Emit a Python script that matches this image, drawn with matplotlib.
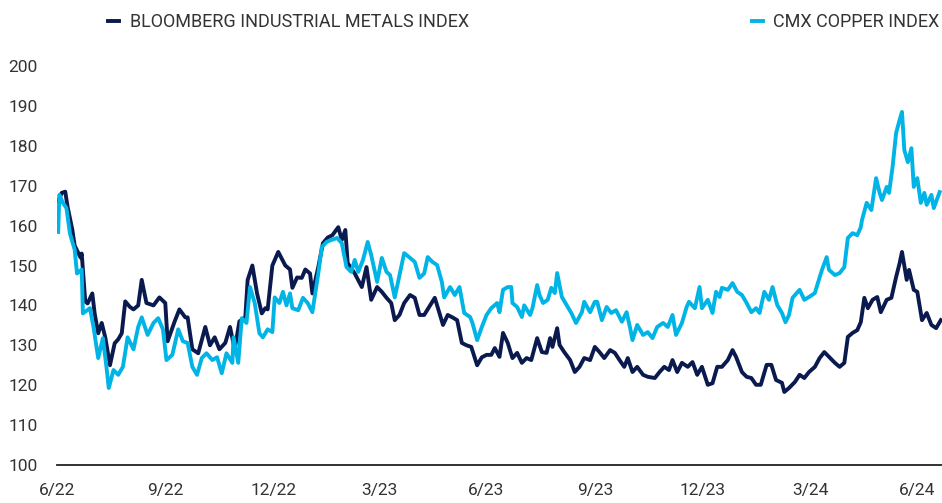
import matplotlib
matplotlib.use("Agg")
import matplotlib.pyplot as plt
import pandas as pd

# datas: dias desde 30/06/2022
inicio = pd.Timestamp("2022-06-30")

bcom_dia = [1, 4, 7, 9, 13, 15, 20, 21, 22, 24, 26, 30, 32, 35, 38, 41, 45, 49, 52, 55,
            58, 62, 65, 69, 72, 76, 82, 87, 92, 94, 100, 104, 109, 111, 115, 120, 126, 130, 134, 138,
            143, 147, 151, 155, 160, 162, 166, 170, 174, 177, 179, 183, 188, 194, 198, 200, 204, 208, 211, 215,
            217, 222, 226, 230, 234, 239, 242, 245, 247, 253, 259, 263, 267, 272, 276, 280, 284, 287, 291, 295,
            300, 304, 308, 312, 317, 321, 323, 328, 332, 336, 340, 344, 348, 352, 357, 361, 365, 369, 372, 376,
            379, 383, 387, 391, 395, 399, 403, 408, 412, 416, 419, 421, 425, 427, 431, 436, 440, 444, 448, 453,
            457, 461, 465, 470, 474, 478, 482, 485, 489, 493, 498, 502, 508, 512, 516, 520, 523, 527, 531, 536,
            540, 544, 548, 553, 557, 561, 565, 570, 574, 577, 582, 586, 590, 594, 598, 603, 607, 611, 616, 618,
            622, 627, 631, 635, 639, 644, 648, 652, 656, 661, 665, 669, 672, 676, 680, 683, 686, 689, 693, 697,
            700, 705, 709, 713, 716, 718, 722, 724, 728, 731, 735, 739, 743, 747, 751]
bcom_val = [166.0, 168.2, 168.5, 164.7, 159.0, 155.0, 152.0, 153.0, 149.0, 141.0, 140.5, 143.0, 138.0, 133.0, 135.6, 132.0, 125.0, 130.5, 131.5, 133.0,
            141.0, 139.6, 139.0, 140.0, 146.4, 140.6, 140.0, 142.0, 140.6, 131.0, 136.0, 139.0, 137.0, 137.0, 129.0, 128.0, 134.6, 130.0, 132.0, 129.0,
            130.6, 134.6, 129.0, 136.0, 137.0, 146.4, 150.0, 143.0, 138.0, 139.3, 139.0, 150.0, 153.4, 150.0, 149.0, 144.4, 147.0, 146.9, 149.0, 148.0,
            143.0, 149.6, 155.6, 157.0, 157.6, 159.6, 156.4, 158.9, 150.6, 148.0, 144.6, 149.6, 141.4, 144.6, 143.4, 141.9, 140.6, 136.3, 137.6, 140.6,
            142.6, 141.9, 137.6, 137.6, 140.0, 141.9, 140.0, 135.1, 137.6, 137.0, 136.3, 130.6, 130.0, 129.6, 125.0, 127.0, 127.6, 127.6, 129.3, 127.1,
            133.1, 130.6, 126.8, 128.1, 125.6, 126.8, 126.3, 131.8, 128.3, 128.1, 131.8, 129.6, 134.3, 130.1, 128.3, 126.3, 123.3, 124.6, 126.8, 126.3,
            129.6, 128.3, 126.8, 128.8, 128.1, 126.3, 124.6, 126.8, 123.3, 124.6, 122.6, 122.1, 121.8, 123.3, 124.6, 123.8, 126.3, 123.3, 125.6, 124.6,
            125.8, 122.6, 124.6, 120.1, 120.5, 124.6, 124.6, 126.3, 128.8, 127.1, 123.3, 122.1, 121.8, 120.1, 120.1, 125.1, 125.1, 121.3, 120.6, 118.3,
            119.3, 120.8, 122.6, 121.8, 123.3, 124.6, 126.8, 128.3, 127.1, 125.6, 124.6, 125.6, 132.1, 133.1, 133.8, 135.8, 141.9, 139.3, 141.4, 142.1,
            138.3, 141.4, 141.9, 147.1, 150.6, 153.4, 146.4, 148.9, 143.9, 143.4, 136.3, 138.1, 135.1, 134.3, 136.3]

cmx_dia = [1, 2, 5, 8, 11, 15, 17, 21, 22, 28, 31, 35, 39, 42, 44, 48, 52, 56, 60, 65,
           69, 72, 77, 82, 86, 90, 93, 98, 103, 107, 111, 115, 119, 123, 127, 132, 136, 140, 144, 149,
           150, 154, 157, 161, 164, 168, 172, 175, 179, 183, 185, 189, 192, 195, 198, 200, 205, 209, 213, 217,
           222, 225, 229, 233, 238, 242, 246, 250, 253, 256, 260, 264, 267, 272, 276, 280, 283, 287, 291, 295,
           300, 304, 308, 312, 315, 319, 323, 327, 329, 334, 338, 342, 346, 351, 353, 357, 361, 365, 369, 374,
           376, 379, 383, 386, 387, 391, 395, 397, 402, 404, 408, 410, 413, 417, 420, 423, 425, 429, 433, 437,
           441, 446, 448, 453, 457, 459, 463, 467, 471, 475, 480, 484, 487, 489, 493, 498, 502, 506, 510, 515,
           519, 523, 526, 531, 535, 537, 542, 546, 548, 553, 557, 560, 563, 565, 570, 574, 578, 582, 586, 590,
           594, 597, 601, 605, 608, 612, 616, 619, 622, 625, 631, 635, 639, 644, 646, 650, 654, 656, 661, 665,
           669, 672, 676, 680, 683, 684, 688, 692, 696, 699, 701, 705, 707, 710, 713, 716, 718, 720, 723, 726,
           728, 731, 734, 737, 739, 743, 745, 750]
cmx_val = [158.4, 167.7, 165.7, 164.4, 158.0, 154.0, 148.0, 149.0, 138.0, 139.3, 134.6, 126.8, 131.8, 124.6, 119.3, 123.8, 122.6, 124.6, 132.0, 129.0,
           134.6, 137.0, 132.6, 135.6, 136.8, 134.0, 126.3, 127.6, 134.0, 131.0, 130.6, 124.6, 122.6, 126.8, 128.0, 126.3, 127.0, 123.0, 128.0, 125.6,
           132.0, 125.6, 136.8, 135.6, 144.6, 140.6, 133.0, 132.0, 134.0, 133.3, 142.0, 140.6, 143.4, 140.0, 143.0, 139.3, 138.8, 141.9, 140.6, 138.3,
           148.0, 154.6, 155.9, 156.4, 156.9, 155.6, 149.6, 148.4, 151.4, 148.4, 151.4, 155.9, 152.6, 145.9, 151.9, 148.4, 147.6, 142.0, 147.6, 153.1,
           151.9, 150.9, 146.9, 148.0, 152.1, 150.9, 150.1, 145.9, 142.0, 144.6, 142.6, 144.6, 138.1, 137.1, 135.6, 131.3, 134.6, 137.6, 139.3, 140.6,
           138.3, 143.9, 144.6, 144.6, 140.6, 139.6, 137.1, 140.0, 137.6, 139.3, 145.1, 142.6, 140.6, 141.4, 144.4, 143.1, 148.1, 142.1, 140.1, 138.1,
           135.6, 138.3, 140.9, 138.3, 140.9, 140.9, 136.3, 139.6, 138.1, 138.8, 135.9, 138.3, 134.3, 131.3, 135.1, 132.6, 133.3, 131.8, 134.6, 135.6,
           134.6, 137.6, 132.6, 135.6, 139.6, 140.9, 139.3, 144.6, 139.3, 141.4, 138.1, 143.4, 142.1, 144.4, 143.9, 145.6, 143.4, 142.6, 140.6, 138.3,
           139.3, 138.1, 143.4, 141.4, 144.6, 140.1, 138.1, 135.8, 137.6, 141.9, 143.9, 141.4, 142.1, 143.1, 145.1, 148.9, 152.1, 148.9, 147.6, 148.1,
           149.6, 156.9, 158.1, 157.6, 159.6, 161.4, 165.7, 163.9, 171.9, 168.2, 166.4, 169.7, 168.2, 174.7, 183.2, 186.5, 188.5, 178.9, 175.9, 179.4,
           169.7, 171.9, 165.7, 168.2, 165.2, 167.7, 164.4, 168.4]

ticks_datas = ["2022-06-30", "2022-09-30", "2022-12-31", "2023-03-31", "2023-06-30",
               "2023-09-30", "2023-12-31", "2024-03-31", "2024-06-30"]
ticks_rotulos = ["6/22", "9/22", "12/22", "3/23", "6/23", "9/23", "12/23", "3/24", "6/24"]

cor_bcom = "#0b1a4e"
cor_cmx = "#00b4e6"
cor_texto = "#333333"

plt.rcParams["font.family"] = ["Roboto", "DejaVu Sans"]

bcom_x = inicio + pd.to_timedelta(bcom_dia, unit="D")
cmx_x = inicio + pd.to_timedelta(cmx_dia, unit="D")

fig = plt.figure(figsize=(9.42, 5.03), dpi=100)
ax = fig.add_axes([57 / 942, 1 - 465 / 503, 885 / 942, 399 / 503])

ax.plot(bcom_x, bcom_val, color=cor_bcom, linewidth=2.8, solid_joinstyle="round",
        label="BLOOMBERG INDUSTRIAL METALS INDEX")
ax.plot(cmx_x, cmx_val, color=cor_cmx, linewidth=2.8, solid_joinstyle="round",
        label="CMX COPPER INDEX")

ax.set_ylim(100, 200)
ax.set_xlim(inicio, inicio + pd.Timedelta(days=752))
ax.set_yticks(range(100, 201, 10))
ax.set_xticks(pd.to_datetime(ticks_datas))
ax.set_xticklabels(ticks_rotulos)

for lado in ["top", "right", "left"]:
    ax.spines[lado].set_visible(False)
ax.spines["bottom"].set_color("#222222")
ax.spines["bottom"].set_linewidth(1.3)

ax.tick_params(axis="both", length=0, labelsize=12.5, colors=cor_texto)
ax.tick_params(axis="y", pad=14)
ax.tick_params(axis="x", pad=13)

# legendas separadas: uma à esquerda, outra encostada à direita
linhas = ax.get_lines()
leg1 = fig.legend([linhas[0]], [linhas[0].get_label()], loc="center left",
                  bbox_to_anchor=(92 / 942, 1 - 22 / 503), frameon=False,
                  fontsize=13, handlelength=0.6, handletextpad=0.6, labelcolor=cor_texto)
leg2 = fig.legend([linhas[1]], [linhas[1].get_label()], loc="center right",
                  bbox_to_anchor=(956 / 942, 1 - 22 / 503), frameon=False,
                  fontsize=13, handlelength=0.6, handletextpad=0.6, labelcolor=cor_texto)

fig.savefig("out.png", dpi=100)
